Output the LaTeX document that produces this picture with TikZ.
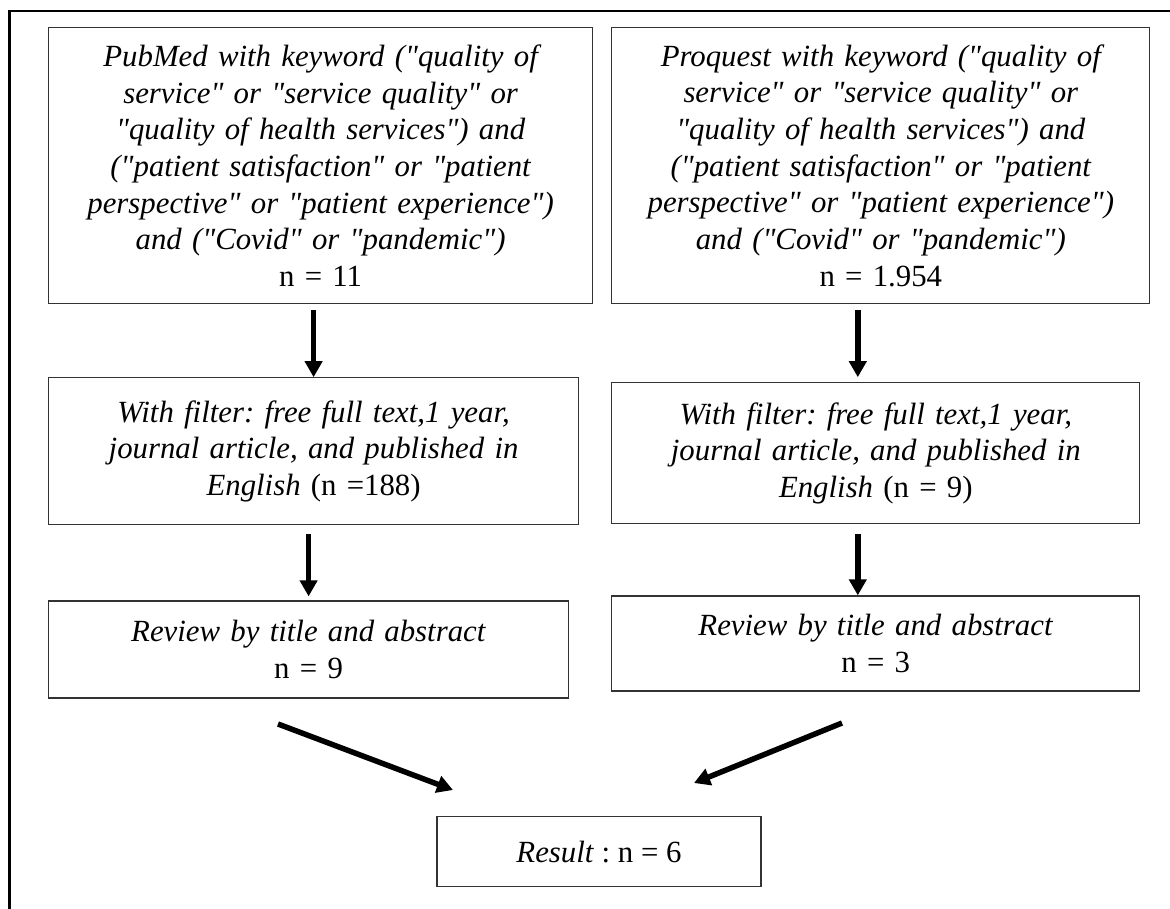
\documentclass[tikz,border=0pt]{standalone}
\usepackage{fontspec}
\setmainfont{Liberation Serif}[Ligatures=TeXOff]
\frenchspacing
\usetikzlibrary{arrows.meta, positioning}
\tikzset{
    block/.style={rectangle, draw=black!80, line width=1.2pt, align=center, inner sep=0pt},
    arrow/.style={line width=5.5pt, -{Triangle[width=17pt, length=16pt]}},
    frame/.style={line width=2.4pt}
}

\begin{document}
\begin{tikzpicture}[x=1pt, y=-1pt, node distance=73pt, font=\fontsize{30.8}{36.7}\selectfont]
            \useasboundingbox (0,0) rectangle (1170,909);
            \draw[frame] (9.5,909) -- (9.5,11) -- (1170,11);

            \node[block, anchor=north west, text width=530pt, minimum width=544pt, minimum height=276pt] (pubmed) at (48,27) {\textit{PubMed with keyword ("quality of\\ service" or "service quality" or\\ "quality of health services") and\\ ("patient satisfaction" or "patient\\ perspective" or "patient experience")\\ and ("Covid" or "pandemic")}\\ n = 11};
            \node[block, right=18pt of pubmed.north east, anchor=north west, text width=530pt, minimum width=538pt, minimum height=276pt] (proquest) {\textit{Proquest with keyword ("quality of\\ service" or "service quality" or\\ "quality of health services") and\\ ("patient satisfaction" or "patient\\ perspective" or "patient experience")\\ and ("Covid" or "pandemic")}\\ n = 1.954};
            \node[block, below=73pt of pubmed.south west, anchor=north west, text width=520pt, minimum width=530pt, minimum height=147pt] (pubfilter) {\textit{With filter: free full text,1 year,\\ journal article, and published in\\ English} (n =188)};
            \node[block, below=78pt of proquest.south west, anchor=north west, text width=520pt, minimum width=528pt, minimum height=141pt] (profilter) {\textit{With filter: free full text,1 year,\\ journal article, and published in\\ English} (n = 9)};
            \node[block, below=75pt of pubfilter.south west, anchor=north west, text width=510pt, minimum width=520pt, minimum height=97pt] (pubreview) {\textit{Review by title and abstract}\\ n = 9};
            \node[block, below=71pt of profilter.south west, anchor=north west, text width=520pt, minimum width=528pt, minimum height=95pt] (proreview) {\textit{Review by title and abstract}\\ n = 3};
            \node[block, anchor=north, minimum width=324pt, minimum height=70pt] (result) at (599,816) {\textit{Result} : n = 6};

            \coordinate (pubin) at (278,724);
            \coordinate (pubout) at (453,790);
            \coordinate (proin) at (842,723);
            \coordinate (proout) at (694,783);

            \draw[arrow, shorten <=6pt] (pubfilter.north |- pubmed.south) -- (pubfilter.north);
            \draw[arrow, shorten <=9pt, shorten >=4pt] (pubreview.north |- pubfilter.south) -- (pubreview.north);
            \draw[arrow, shorten <=6pt, shorten >=5pt] ([xshift=-18pt]profilter.north |- proquest.south) -- ([xshift=-18pt]profilter.north);
            \draw[arrow, shorten <=10pt] ([xshift=-18pt]proreview.north |- profilter.south) -- ([xshift=-18pt]proreview.north);
            \draw[arrow] (pubin) -- (pubout);
            \draw[arrow] (proin) -- (proout);
        \end{tikzpicture}
\end{document}
